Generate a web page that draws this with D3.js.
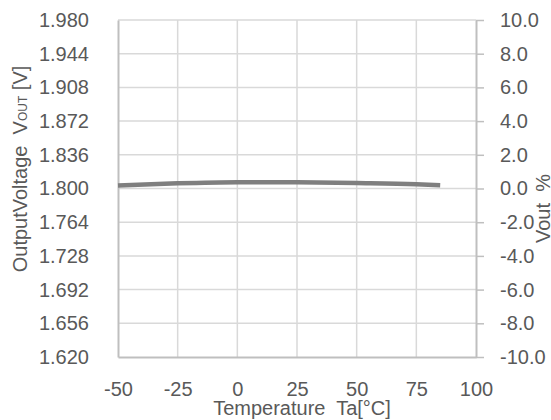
<!DOCTYPE html>
<html><head><meta charset="utf-8">
<script src="https://cdn.jsdelivr.net/npm/d3@7"></script>
<style>body{margin:0;background:#fff}svg{display:block}text{font-family:"Liberation Sans",Arial,sans-serif;fill:#595959}</style>
</head><body>
<script>
const temps = [-50, -25, 0, 25, 50, 75, 85];
const vout = [1.8032, 1.8056, 1.8068, 1.8066, 1.8058, 1.8045, 1.8034];
const xTicks = [-50, -25, 0, 25, 50, 75, 100];
const yTicks = [1.620, 1.656, 1.692, 1.728, 1.764, 1.800, 1.836, 1.872, 1.908, 1.944, 1.980];
const y2Ticks = [-10, -8, -6, -4, -2, 0, 2, 4, 6, 8, 10];

const W = 551, H = 420;
const L = 118, R = 476, T = 20, B = 357;
const svg = d3.select("body").append("svg").attr("width", W).attr("height", H);
const x = d3.scaleLinear().domain([-50, 100]).range([L, R]);
const y = d3.scaleLinear().domain([1.620, 1.980]).range([B, T]);
const y2 = d3.scaleLinear().domain([-10, 10]).range([B, T]);
const fs = 20;
const hy = s => s.replace(/\u2212/g, "-");

// gridlines
svg.append("g").selectAll("line").data(xTicks.filter(d => d > -50 && d < 100)).join("line")
  .attr("x1", d => x(d)).attr("x2", d => x(d)).attr("y1", T).attr("y2", B)
  .attr("stroke", "#d9d9d9").attr("stroke-width", 1.5);
svg.append("g").selectAll("line").data(yTicks.filter(d => d > 1.62)).join("line")
  .attr("x1", L).attr("x2", R).attr("y1", d => y(d)).attr("y2", d => y(d))
  .attr("stroke", "#d9d9d9").attr("stroke-width", 1.5);

// left axis (no ticks)
const yAxis = d3.axisLeft(y).tickValues(yTicks).tickSize(0).tickPadding(29).tickFormat(d => hy(d3.format(".3f")(d)));
const gy = svg.append("g").attr("transform", `translate(${L},0)`).call(yAxis);
gy.select(".domain").attr("stroke", "#bfbfbf").attr("stroke-width", 2);
gy.selectAll("text").attr("font-size", fs).attr("fill", "#595959").attr("font-family", '"Liberation Sans",Arial,sans-serif');

// bottom axis
const xAxis = d3.axisBottom(x).tickValues(xTicks).tickSize(0).tickPadding(25).tickFormat(d => hy(d3.format("d")(d)));
const gx = svg.append("g").attr("transform", `translate(0,${B})`).call(xAxis);
gx.select(".domain").attr("stroke", "#bfbfbf").attr("stroke-width", 2);
gx.selectAll("text").attr("font-size", fs).attr("fill", "#595959").attr("font-family", '"Liberation Sans",Arial,sans-serif');

// right axis with outward ticks
const y2Axis = d3.axisRight(y2).tickValues(y2Ticks).tickSize(8).tickSizeOuter(0).tickPadding(16).tickFormat(d => hy(d3.format(".1f")(d)));
const gr = svg.append("g").attr("transform", `translate(${R},0)`).call(y2Axis);
gr.select(".domain").attr("stroke", "#bfbfbf").attr("stroke-width", 2);
gr.selectAll(".tick line").attr("stroke", "#bfbfbf").attr("stroke-width", 1.5);
gr.selectAll("text").attr("font-size", fs).attr("fill", "#595959").attr("font-family", '"Liberation Sans",Arial,sans-serif');

// data line
svg.append("path").datum(temps.map((t, i) => [t, vout[i]]))
  .attr("fill", "none").attr("stroke", "#7f7f7f").attr("stroke-width", 4.5)
  .attr("d", d3.line().x(d => x(d[0])).y(d => y(d[1])).curve(d3.curveMonotoneX));

// axis titles
svg.append("text").attr("x", 302).attr("y", 415).attr("text-anchor", "middle").attr("font-size", fs)
  .attr("xml:space", "preserve").text("Temperature  Ta[°C]");

const lt = svg.append("text").attr("transform", "translate(27,169) rotate(-90)").attr("text-anchor", "middle").attr("font-size", fs)
  .attr("xml:space", "preserve");
lt.append("tspan").text("OutputVoltage  V");
lt.append("tspan").attr("font-size", 12).text("OUT");
lt.append("tspan").text(" [V]");

svg.append("text").attr("transform", "translate(550,243) rotate(-90)").attr("text-anchor", "start").attr("font-size", fs)
  .attr("xml:space", "preserve").text("Vout  %");
</script>
</body></html>
